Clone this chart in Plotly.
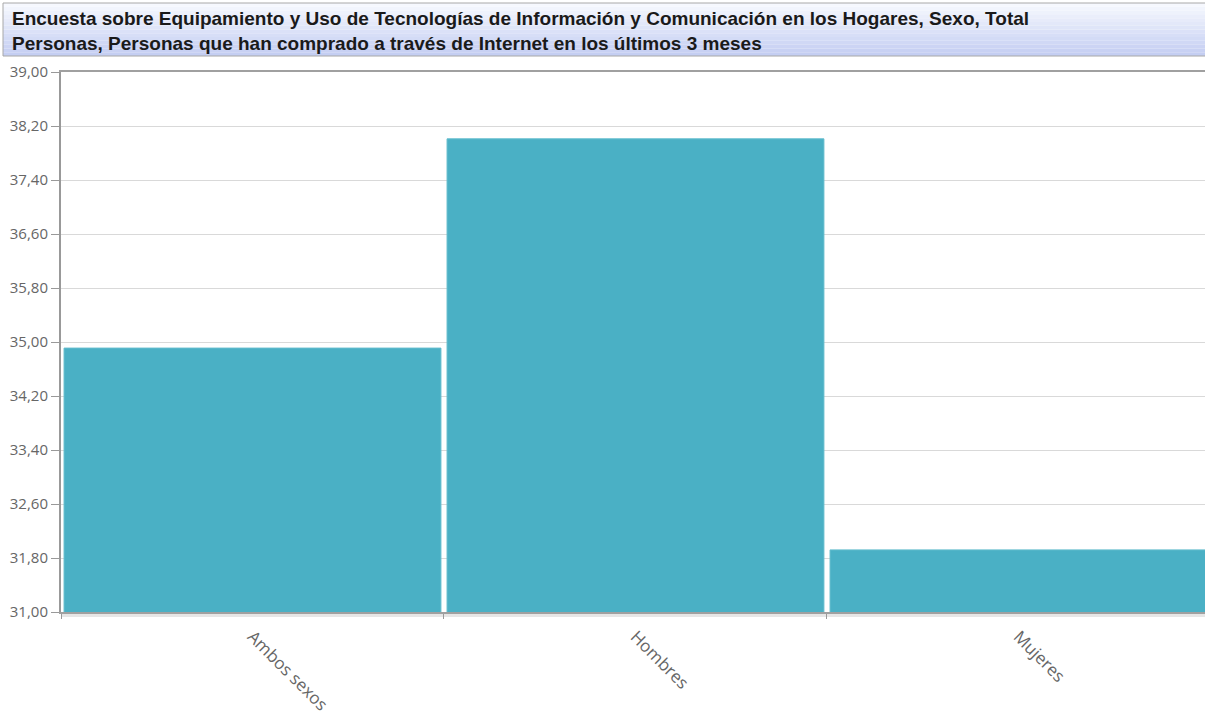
import plotly.graph_objects as go

categories = ["Ambos sexos", "Hombres", "Mujeres"]
values = [34.91, 38.01, 31.92]
title_lines = [
    "Encuesta sobre Equipamiento y Uso de Tecnologías de Información y Comunicación en los Hogares, Sexo, Total",
    "Personas, Personas que han comprado a través de Internet en los últimos 3 meses",
]

W, H = 1205, 725
L, T, B = 61, 72, 612
PW = 1144
PH = B - T


def px_x(px):
    return (px - L) / PW


def px_y(py):
    return (B - py) / PH


fig = go.Figure()
fig.add_trace(go.Bar(
    x=categories, y=values,
    marker=dict(color="#4AB0C5", line=dict(color="#62bccd", width=1)),
    hoverinfo="skip",
))

shapes = []
# title box gradient
top_c = (246, 248, 254)
bot_c = (196, 206, 242)
n = 14
y_top, y_bot = 3, 56
for i in range(n):
    t = i / (n - 1)
    c = tuple(int(round(top_c[k] + (bot_c[k] - top_c[k]) * t)) for k in range(3))
    ya = y_top + (y_bot - y_top) * i / n
    yb = y_top + (y_bot - y_top) * (i + 1) / n
    shapes.append(dict(type="rect", xref="paper", yref="paper",
                       x0=px_x(3), x1=px_x(1212), y0=px_y(yb), y1=px_y(ya),
                       fillcolor="rgb(%d,%d,%d)" % c, line=dict(width=0), layer="below"))
shapes.append(dict(type="rect", xref="paper", yref="paper",
                   x0=px_x(3), x1=px_x(1212), y0=px_y(y_bot), y1=px_y(y_top),
                   fillcolor="rgba(0,0,0,0)", line=dict(color="#a8a8a8", width=1)))
# shadow under x axis
shapes.append(dict(type="rect", xref="paper", yref="paper",
                   x0=px_x(62), x1=1.01, y0=px_y(617), y1=px_y(613),
                   fillcolor="#e6e6e6", line=dict(width=0), layer="below"))

fig.update_layout(
    width=W, height=H,
    margin=dict(l=L, r=W - L - PW, t=T, b=H - B, pad=0),
    paper_bgcolor="white", plot_bgcolor="white",
    separators=",.",
    showlegend=False,
    bargap=0.016,
    shapes=shapes,
    annotations=[dict(
        xref="paper", yref="paper", x=px_x(10), y=px_y(6),
        xanchor="left", yanchor="top", align="left", showarrow=False,
        text="<b>" + "<br>".join(title_lines) + "</b>",
        font=dict(family="Liberation Sans, Arial", size=19, color="#1a1a1a"),
    )],
    xaxis=dict(
        range=[-0.5, 2.487],
        tickangle=45,
        tickson="boundaries",
        ticks="outside", ticklen=5, tickcolor="#999",
        ticklabelstandoff=6,
        showline=True, linecolor="#a0a0a0", linewidth=2, mirror=True,
        showgrid=False,
        tickfont=dict(family="Open Sans", size=17, color="#666"),
        fixedrange=True,
    ),
    yaxis=dict(
        range=[31, 39],
        tick0=31, dtick=0.8,
        tickformat=".2f",
        ticks="outside", ticklen=8, tickcolor="#999",
        showline=True, linecolor="#999", linewidth=2,
        showgrid=True, gridcolor="#d9d9d9", gridwidth=1,
        zeroline=False,
        tickfont=dict(family="Open Sans", size=15, color="#666"),
        fixedrange=True,
    ),
)

fig.write_html("out.html", config={"displayModeBar": False})
